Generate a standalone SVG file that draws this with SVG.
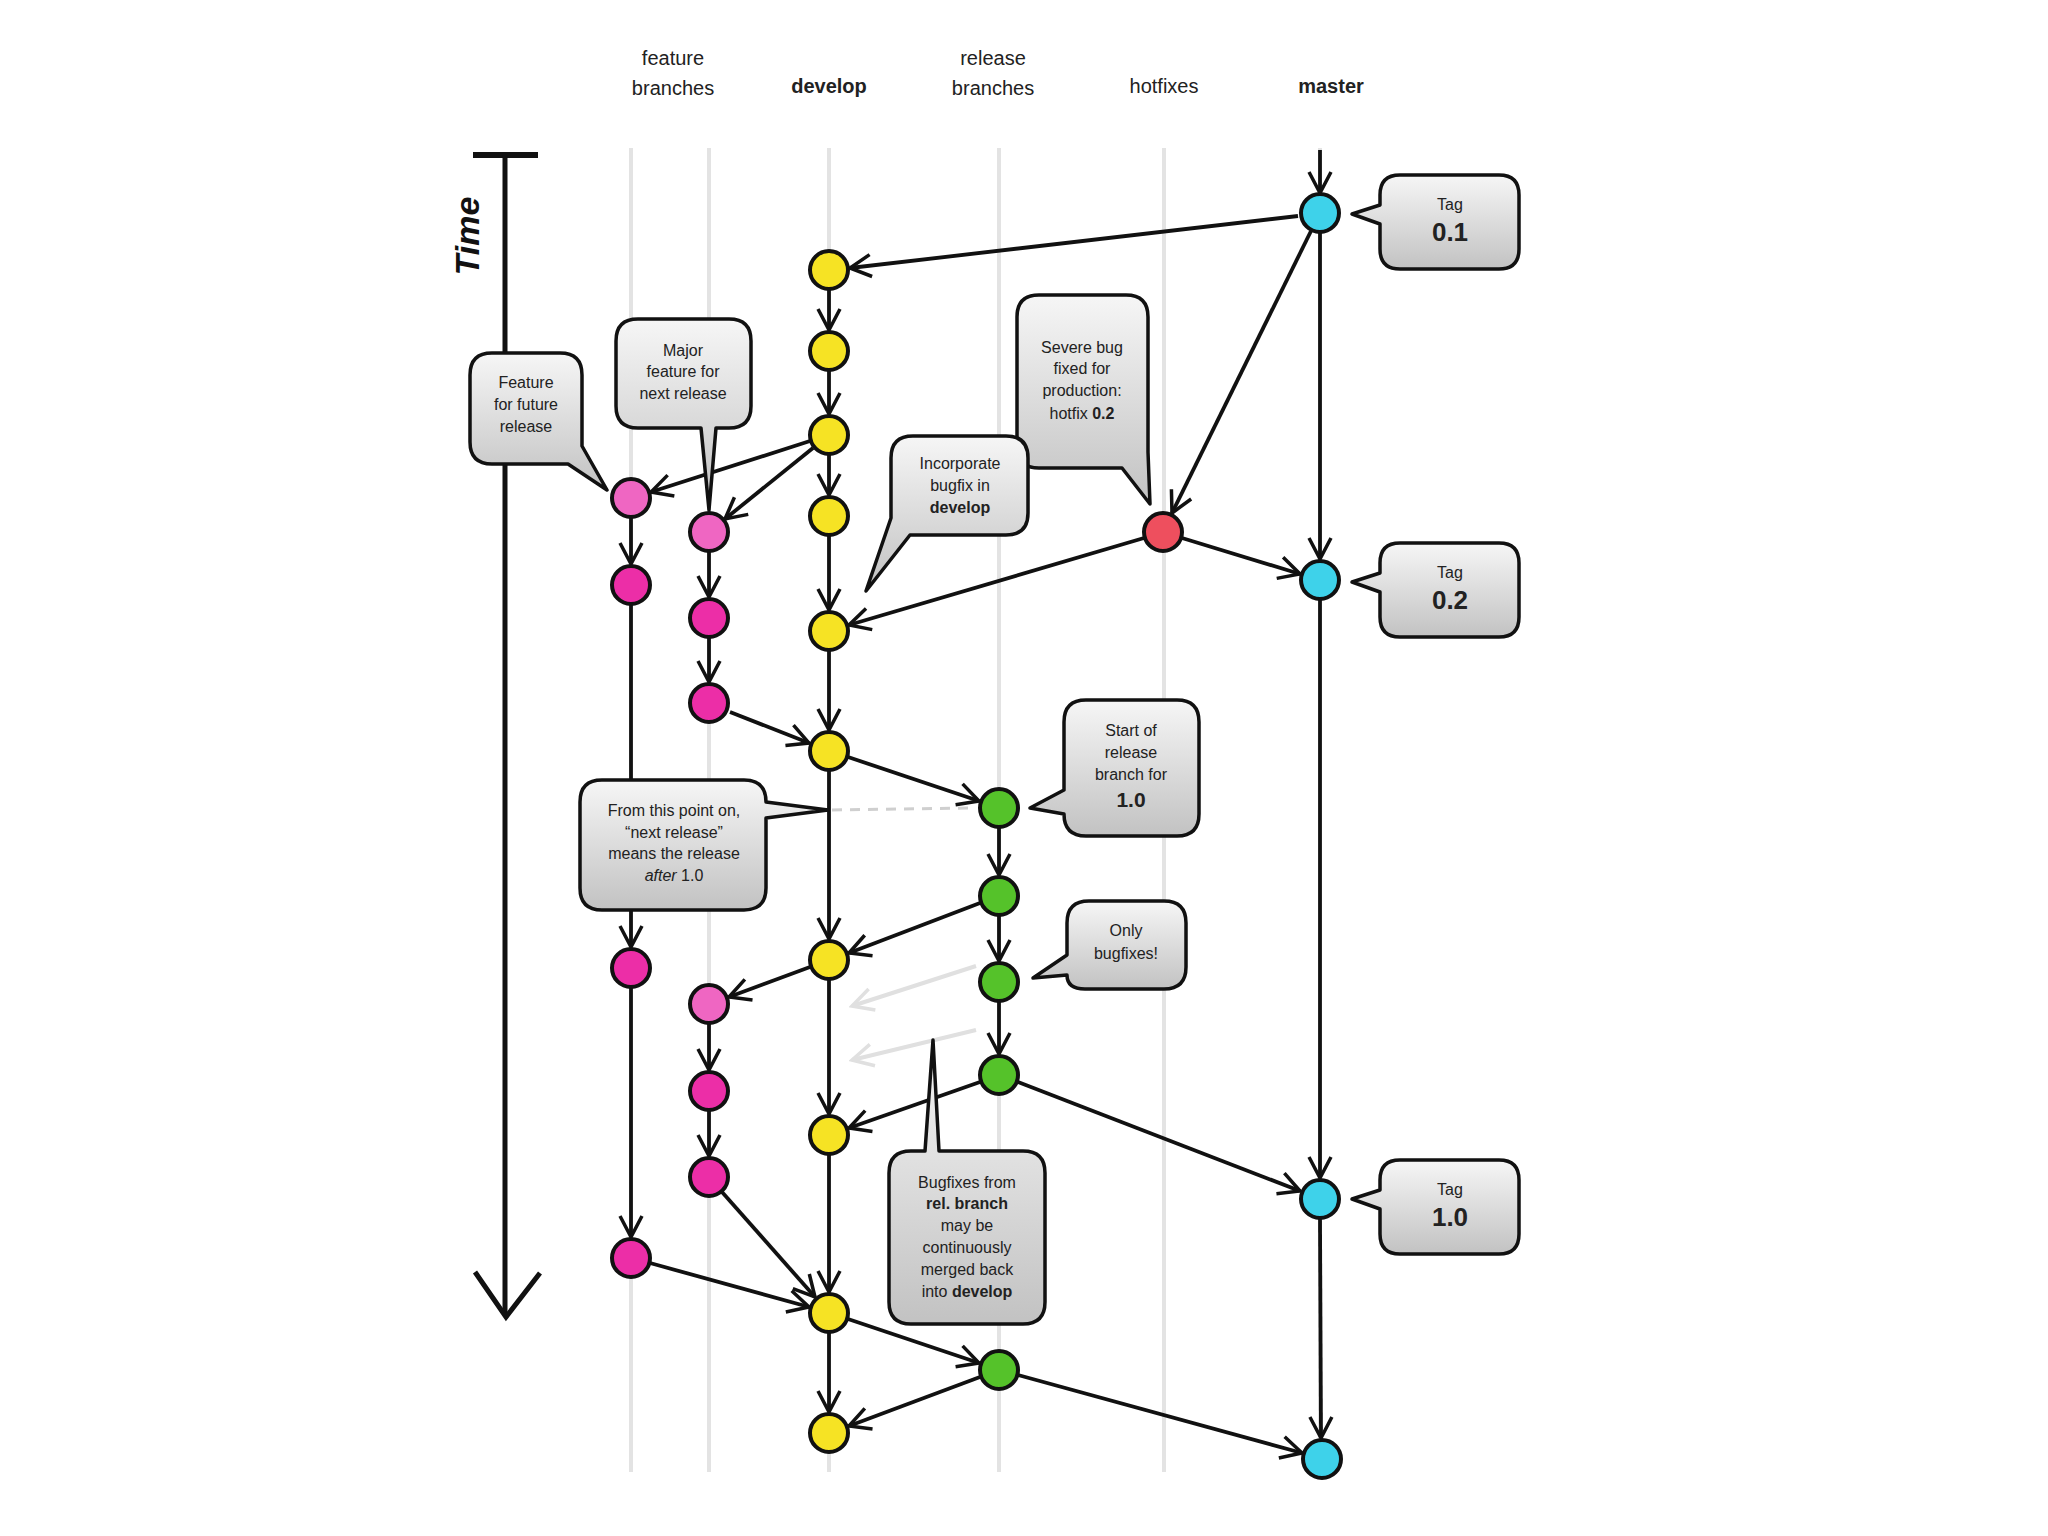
<svg xmlns="http://www.w3.org/2000/svg" width="2048" height="1536" viewBox="0 0 2048 1536">
<defs>
<linearGradient id="boxg" x1="0" y1="0" x2="0" y2="1">
<stop offset="0" stop-color="#f6f6f6"/>
<stop offset="1" stop-color="#c2c2c2"/>
</linearGradient>
<marker id="ah" viewBox="0 0 26 26" refX="23" refY="13" markerWidth="26" markerHeight="26" markerUnits="userSpaceOnUse" orient="auto">
<path d="M2,2 L23,13 L2,24" fill="none" stroke="#111" stroke-width="3.5" stroke-linejoin="miter"/>
</marker>
<marker id="ahg" viewBox="0 0 26 26" refX="23" refY="13" markerWidth="26" markerHeight="26" markerUnits="userSpaceOnUse" orient="auto">
<path d="M2,2 L23,13 L2,24" fill="none" stroke="#e0e0e0" stroke-width="3.5"/>
</marker>
<path id="tagshape" d="M1400,175 H1499 Q1519,175 1519,195 V249 Q1519,269 1499,269 H1400 Q1380,269 1380,249 V224 L1352,214 L1380,205 V195 Q1380,175 1400,175 Z"/>
</defs>
<style>
.lane{stroke:#e3e3e3;stroke-width:4;fill:none}
.e{stroke:#111;stroke-width:3.8;fill:none;marker-end:url(#ah)}
.g{stroke:#e0e0e0;stroke-width:4;fill:none;marker-end:url(#ahg)}
.n{stroke:#111;stroke-width:4}
.y{fill:#f6e324}.p{fill:#ec2ea7}.pl{fill:#ef66c2}.gr{fill:#55c22a}.c{fill:#3ed2ea}.r{fill:#ee4f5e}
.box{fill:url(#boxg);stroke:#111;stroke-width:3.5;stroke-linejoin:round}
.h{font-family:"Liberation Sans",Arial,sans-serif;font-size:20px;fill:#222;text-anchor:middle}
.t{font-family:"Liberation Sans",Arial,sans-serif;font-size:16px;fill:#222;text-anchor:middle}
.b{font-weight:bold}
.big{font-size:26px}
.mid{font-size:21px}
</style>
<rect width="2048" height="1536" fill="#fff"/>
<g id="lanes">
<line class="lane" x1="631" y1="148" x2="631" y2="1472"/>
<line class="lane" x1="709" y1="148" x2="709" y2="1472"/>
<line class="lane" x1="829" y1="148" x2="829" y2="1472"/>
<line class="lane" x1="999" y1="148" x2="999" y2="1472"/>
<line class="lane" x1="1164" y1="148" x2="1164" y2="1472"/>
<line class="lane" x1="1320" y1="148" x2="1320" y2="1472"/>
</g>
<g id="headers">
<text class="h" x="673" y="65">feature</text>
<text class="h" x="673" y="95">branches</text>
<text class="h b" x="829" y="93">develop</text>
<text class="h" x="993" y="65">release</text>
<text class="h" x="993" y="95">branches</text>
<text class="h" x="1164" y="93">hotfixes</text>
<text class="h b" x="1331" y="93">master</text>
</g>
<g id="time">
<line x1="473" y1="155" x2="538" y2="155" stroke="#111" stroke-width="6"/>
<line x1="505" y1="155" x2="505" y2="1313" stroke="#111" stroke-width="5"/>
<polyline points="475,1272 506,1317 540,1273" fill="none" stroke="#111" stroke-width="5"/>
<text transform="translate(479,236) rotate(-90)" font-family="Liberation Sans,Arial,sans-serif" font-size="34" font-weight="bold" font-style="italic" text-anchor="middle" fill="#111">Time</text>
</g>
<g id="connectors">
<line class="e" x1="1320" y1="150" x2="1320" y2="193"/>
<line class="e" x1="1320" y1="233" x2="1320" y2="559"/>
<line class="e" x1="1320" y1="600" x2="1320" y2="1178"/>
<line class="e" x1="1320" y1="1219" x2="1321" y2="1438"/>
<line class="e" x1="829" y1="290" x2="829" y2="330"/>
<line class="e" x1="829" y1="371" x2="829" y2="414"/>
<line class="e" x1="829" y1="455" x2="829" y2="495"/>
<line class="e" x1="829" y1="536" x2="829" y2="610"/>
<line class="e" x1="829" y1="651" x2="829" y2="730"/>
<line class="e" x1="829" y1="771" x2="829" y2="939"/>
<line class="e" x1="829" y1="980" x2="829" y2="1114"/>
<line class="e" x1="829" y1="1155" x2="829" y2="1292"/>
<line class="e" x1="829" y1="1333" x2="829" y2="1412"/>
<line class="e" x1="631" y1="518" x2="631" y2="564"/>
<line class="e" x1="631" y1="605" x2="631" y2="947"/>
<line class="e" x1="631" y1="988" x2="631" y2="1237"/>
<line class="e" x1="709" y1="552" x2="709" y2="597"/>
<line class="e" x1="709" y1="638" x2="709" y2="682"/>
<line class="e" x1="709" y1="1024" x2="709" y2="1070"/>
<line class="e" x1="709" y1="1111" x2="709" y2="1156"/>
<line class="e" x1="999" y1="828" x2="999" y2="875"/>
<line class="e" x1="999" y1="916" x2="999" y2="961"/>
<line class="e" x1="999" y1="1002" x2="999" y2="1054"/>
<line class="e" x1="1298" y1="216" x2="850" y2="268"/>
<line class="e" x1="1311" y1="231" x2="1172" y2="513"/>
<line class="e" x1="1182" y1="538" x2="1300" y2="574"/>
<line class="e" x1="1144" y1="538" x2="849" y2="625"/>
<line class="e" x1="810" y1="441" x2="651" y2="492"/>
<line class="e" x1="813" y1="448" x2="725" y2="519"/>
<line class="e" x1="730" y1="712" x2="809" y2="743"/>
<line class="e" x1="848" y1="757" x2="979" y2="801"/>
<line class="e" x1="980" y1="903" x2="849" y2="953"/>
<line class="e" x1="810" y1="967" x2="729" y2="997"/>
<line class="e" x1="980" y1="1082" x2="849" y2="1128"/>
<line class="e" x1="1018" y1="1082" x2="1300" y2="1191"/>
<line class="e" x1="722" y1="1192" x2="815" y2="1297"/>
<line class="e" x1="650" y1="1263" x2="809" y2="1307"/>
<line class="e" x1="848" y1="1319" x2="979" y2="1363"/>
<line class="e" x1="980" y1="1377" x2="849" y2="1426"/>
<line class="e" x1="1018" y1="1375" x2="1302" y2="1453"/>
<line class="g" x1="976" y1="966" x2="852" y2="1006"/>
<line class="g" x1="976" y1="1030" x2="852" y2="1060"/>
<line x1="832" y1="810" x2="976" y2="808" stroke="#cfcfcf" stroke-width="3" stroke-dasharray="10,8"/>
</g>
<g id="node-d1"><circle class="n y" cx="829" cy="270" r="19"/></g>
<g id="node-d2"><circle class="n y" cx="829" cy="351" r="19"/></g>
<g id="node-d3"><circle class="n y" cx="829" cy="435" r="19"/></g>
<g id="node-d4"><circle class="n y" cx="829" cy="516" r="19"/></g>
<g id="node-d5"><circle class="n y" cx="829" cy="631" r="19"/></g>
<g id="node-d6"><circle class="n y" cx="829" cy="751" r="19"/></g>
<g id="node-d7"><circle class="n y" cx="829" cy="960" r="19"/></g>
<g id="node-d8"><circle class="n y" cx="829" cy="1135" r="19"/></g>
<g id="node-d9"><circle class="n y" cx="829" cy="1313" r="19"/></g>
<g id="node-d10"><circle class="n y" cx="829" cy="1433" r="19"/></g>
<g id="node-f1a"><circle class="n pl" cx="631" cy="498" r="19"/></g>
<g id="node-f1b"><circle class="n p" cx="631" cy="585" r="19"/></g>
<g id="node-f1c"><circle class="n p" cx="631" cy="968" r="19"/></g>
<g id="node-f1d"><circle class="n p" cx="631" cy="1258" r="19"/></g>
<g id="node-f2a"><circle class="n pl" cx="709" cy="532" r="19"/></g>
<g id="node-f2b"><circle class="n p" cx="709" cy="618" r="19"/></g>
<g id="node-f2c"><circle class="n p" cx="709" cy="703" r="19"/></g>
<g id="node-f2d"><circle class="n pl" cx="709" cy="1004" r="19"/></g>
<g id="node-f2e"><circle class="n p" cx="709" cy="1091" r="19"/></g>
<g id="node-f2f"><circle class="n p" cx="709" cy="1177" r="19"/></g>
<g id="node-r1"><circle class="n gr" cx="999" cy="808" r="19"/></g>
<g id="node-r2"><circle class="n gr" cx="999" cy="896" r="19"/></g>
<g id="node-r3"><circle class="n gr" cx="999" cy="982" r="19"/></g>
<g id="node-r4"><circle class="n gr" cx="999" cy="1075" r="19"/></g>
<g id="node-r5"><circle class="n gr" cx="999" cy="1370" r="19"/></g>
<g id="node-h1"><circle class="n r" cx="1163" cy="532" r="19"/></g>
<g id="node-m1"><circle class="n c" cx="1320" cy="213" r="19"/></g>
<g id="node-m2"><circle class="n c" cx="1320" cy="580" r="19"/></g>
<g id="node-m3"><circle class="n c" cx="1320" cy="1199" r="19"/></g>
<g id="node-m4"><circle class="n c" cx="1322" cy="1459" r="19"/></g>
<g id="tag-01">
<use href="#tagshape" class="box"/>
<text class="t" x="1450" y="210">Tag</text>
<text class="t b big" x="1450" y="241">0.1</text>
</g>
<g id="tag-02" transform="translate(0,368)">
<use href="#tagshape" class="box"/>
<text class="t" x="1450" y="210">Tag</text>
<text class="t b big" x="1450" y="241">0.2</text>
</g>
<g id="tag-10" transform="translate(0,985)">
<use href="#tagshape" class="box"/>
<text class="t" x="1450" y="210">Tag</text>
<text class="t b big" x="1450" y="241">1.0</text>
</g>
<g id="note-future">
<path class="box" d="M492,353 H560 Q582,353 582,375 V446 L607,490 L568,464 H492 Q470,464 470,442 V375 Q470,353 492,353 Z"/>
<text class="t" x="526" y="388">Feature</text>
<text class="t" x="526" y="410">for future</text>
<text class="t" x="526" y="432">release</text>
</g>
<g id="note-major">
<path class="box" d="M638,319 H729 Q751,319 751,341 V406 Q751,428 729,428 H716 L709,510 L701,428 H638 Q616,428 616,406 V341 Q616,319 638,319 Z"/>
<text class="t" x="683" y="356">Major</text>
<text class="t" x="683" y="377">feature for</text>
<text class="t" x="683" y="399">next release</text>
</g>
<g id="note-severe">
<path class="box" d="M1039,295 H1126 Q1148,295 1148,317 V452 L1150,504 L1122,468 H1039 Q1017,468 1017,446 V317 Q1017,295 1039,295 Z"/>
<text class="t" x="1082" y="353">Severe bug</text>
<text class="t" x="1082" y="374">fixed for</text>
<text class="t" x="1082" y="396">production:</text>
<text class="t" x="1082" y="419">hotfix <tspan class="b">0.2</tspan></text>
</g>
<g id="note-incorporate">
<path class="box" d="M913,436 H1006 Q1028,436 1028,458 V513 Q1028,535 1006,535 H910 L866,591 L891,518 V458 Q891,436 913,436 Z"/>
<text class="t" x="960" y="469">Incorporate</text>
<text class="t" x="960" y="491">bugfix in</text>
<text class="t b" x="960" y="513">develop</text>
</g>
<g id="note-start">
<path class="box" d="M1086,700 H1177 Q1199,700 1199,722 V814 Q1199,836 1177,836 H1086 Q1064,836 1064,814 L1030,808 L1064,790 V722 Q1064,700 1086,700 Z"/>
<text class="t" x="1131" y="736">Start of</text>
<text class="t" x="1131" y="758">release</text>
<text class="t" x="1131" y="780">branch for</text>
<text class="t b mid" x="1131" y="807">1.0</text>
</g>
<g id="note-next">
<path class="box" d="M602,780 H744 Q766,780 766,802 L828,810 L766,818 V888 Q766,910 744,910 H602 Q580,910 580,888 V802 Q580,780 602,780 Z"/>
<text class="t" x="674" y="816">From this point on,</text>
<text class="t" x="674" y="838">“next release”</text>
<text class="t" x="674" y="859">means the release</text>
<text class="t" x="674" y="881"><tspan font-style="italic">after</tspan> 1.0</text>
</g>
<g id="note-only">
<path class="box" d="M1089,901 H1164 Q1186,901 1186,923 V967 Q1186,989 1164,989 H1085 Q1067,989 1067,975 L1033,978 L1067,955 V923 Q1067,901 1089,901 Z"/>
<text class="t" x="1126" y="936">Only</text>
<text class="t" x="1126" y="959">bugfixes!</text>
</g>
<g id="note-bugfixes">
<path class="box" d="M911,1151 H925 L933,1040 L939,1151 H1023 Q1045,1151 1045,1173 V1302 Q1045,1324 1023,1324 H911 Q889,1324 889,1302 V1173 Q889,1151 911,1151 Z"/>
<text class="t" x="967" y="1188">Bugfixes from</text>
<text class="t b" x="967" y="1209">rel. branch</text>
<text class="t" x="967" y="1231">may be</text>
<text class="t" x="967" y="1253">continuously</text>
<text class="t" x="967" y="1275">merged back</text>
<text class="t" x="967" y="1297">into <tspan class="b">develop</tspan></text>
</g>
</svg>
